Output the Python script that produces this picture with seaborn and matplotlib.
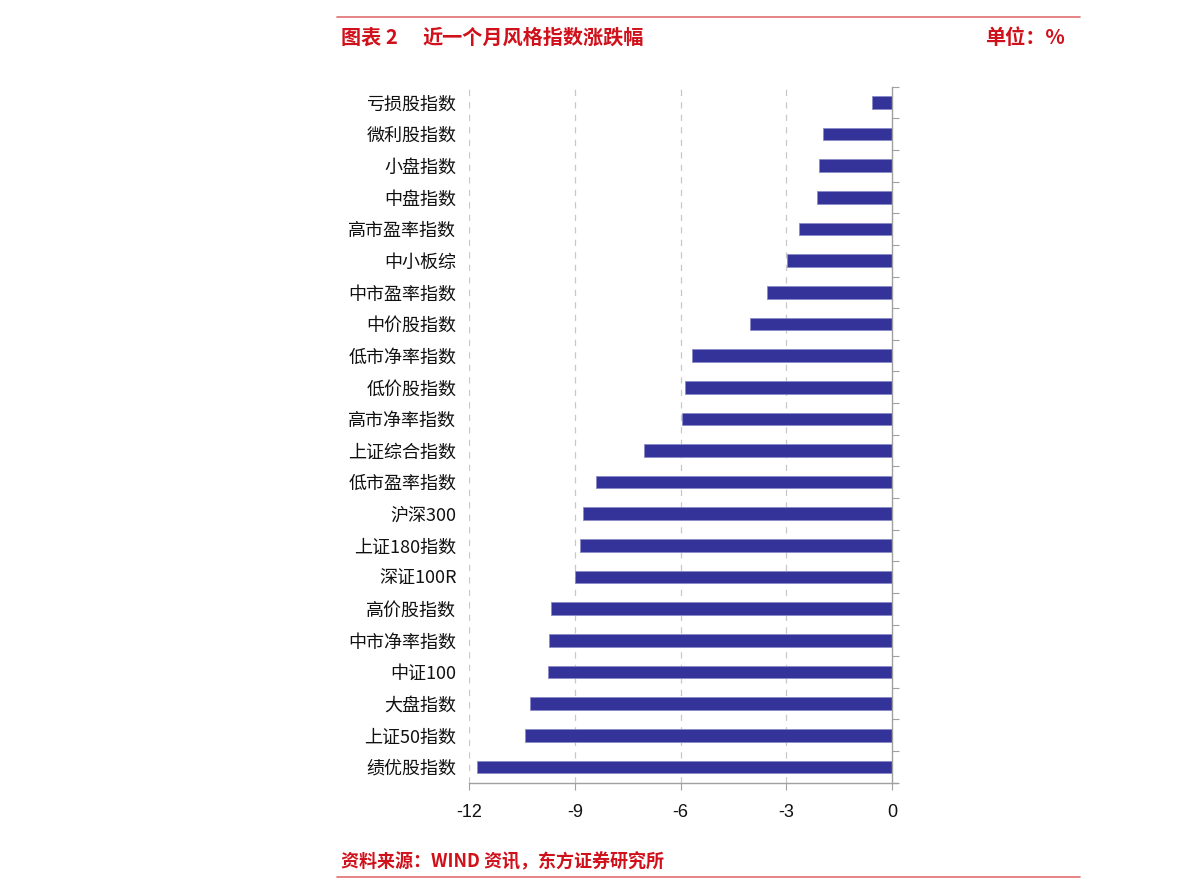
import matplotlib
matplotlib.use("Agg")
import matplotlib.pyplot as plt
import seaborn as sns
import pandas as pd
import numpy as np
from matplotlib.lines import Line2D
from matplotlib.ticker import FixedLocator

categories = ["亏损股指数", "微利股指数", "小盘指数", "中盘指数", "高市盈率指数", "中小板综",
              "中市盈率指数", "中价股指数", "低市净率指数", "低价股指数", "高市净率指数",
              "上证综合指数", "低市盈率指数", "沪深300", "上证180指数", "深证100R",
              "高价股指数", "中市净率指数", "中证100", "大盘指数", "上证50指数", "绩优股指数"]
values = [-0.58, -1.95, -2.08, -2.13, -2.63, -2.99, -3.54, -4.04, -5.67, -5.86, -5.95,
          -7.05, -8.41, -8.77, -8.85, -9.00, -9.68, -9.73, -9.77, -10.27, -10.41, -11.77]
xticks = [-12, -9, -6, -3, 0]

sns.set_theme(style="white")
plt.rcParams['font.family'] = ['Noto Sans CJK SC', 'DejaVu Sans']
plt.rcParams['axes.unicode_minus'] = False

df = pd.DataFrame({"name": categories, "value": values})

fig = plt.figure(figsize=(11.9, 8.94), dpi=100)
ax = fig.add_axes([0.3941, 0.1245, 0.7538 - 0.3941, 0.903 - 0.1245])

sns.barplot(data=df, y="name", x="value", orient="h", color="#333399", width=0.4,
            edgecolor="#8a8ac8", linewidth=0.6, saturation=1, ax=ax)

n = len(categories)
ax.set_xlim(-12, 0.14)
ax.set_ylim(n - 0.5, -0.5)
ax.set_xlabel("")
ax.set_ylabel("")

ax.set_xticks(xticks)
ax.set_xticklabels([str(t) for t in xticks], family=['Liberation Sans', 'DejaVu Sans'], fontsize=13, color='#111111')
for t in xticks[:-1]:
    ax.axvline(t, color='#c8c8c8', linestyle=(0, (5, 5)), linewidth=0.9, zorder=0)

for s in ['top', 'left']:
    ax.spines[s].set_visible(False)
ax.spines['bottom'].set_color('#a0a0a0')
ax.spines['bottom'].set_linewidth(1.0)
ax.spines['right'].set_position(('data', 0))
ax.spines['right'].set_color('#a0a0a0')
ax.spines['right'].set_linewidth(1.0)
ax.spines['right'].set_visible(True)

ax.tick_params(axis='x', which='major', bottom=True, length=5, width=0.8, color='#a0a0a0', pad=10)
ax.yaxis.set_minor_locator(FixedLocator(np.arange(-0.5, n, 1.0)))
ax.tick_params(axis='y', which='major', left=True, right=False, length=0, pad=9, labelsize=13, labelcolor='#111111')
ax.tick_params(axis='y', which='minor', left=False, right=True, length=5, width=0.8, color='#a0a0a0', direction='out')

red = '#d0101a'
fig.add_artist(Line2D([337 / 1190, 1080 / 1190], [1 - 17 / 894, 1 - 17 / 894], color='#e07070', linewidth=1.2))
fig.add_artist(Line2D([337 / 1190, 1080 / 1190], [1 - 877 / 894, 1 - 877 / 894], color='#e07070', linewidth=1.2))
fig.text(341 / 1190, 1 - 37 / 894, "图表 2", color=red, fontsize=14.5,
         fontweight='bold', va='center', ha='left')
fig.text(422 / 1190, 1 - 37 / 894, "近一个月风格指数涨跌幅", color=red, fontsize=14.5,
         fontweight='bold', va='center', ha='left')
fig.text(985 / 1190, 1 - 37 / 894, "单位：%", color=red, fontsize=14.5,
         fontweight='bold', va='center', ha='left')
fig.text(341 / 1190, 1 - 862 / 894, "资料来源：WIND 资讯，东方证券研究所", color=red, fontsize=13,
         fontweight='bold', va='center', ha='left')

fig.savefig("out.png", dpi=100)
